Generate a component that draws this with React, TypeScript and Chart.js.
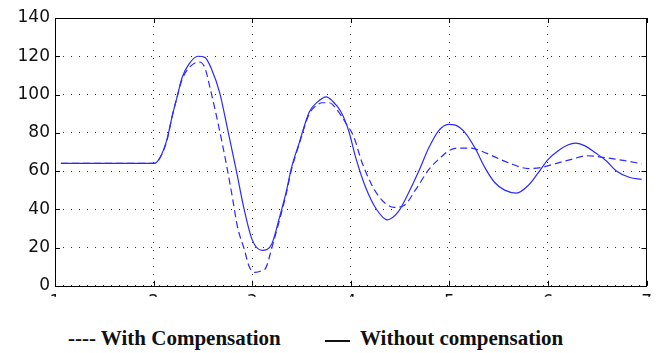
import React, { useEffect, useRef } from "react";
import { Chart, registerables } from "chart.js";

Chart.register(...registerables);

const withoutCompX = [1.06, 2.0, 2.03, 2.13, 2.19, 2.24, 2.29, 2.36, 2.45, 2.52, 2.59, 2.67, 2.75, 2.84, 2.92, 3.0, 3.1, 3.2, 3.27, 3.34, 3.4, 3.47, 3.58, 3.66, 3.75, 3.81, 3.9, 3.98, 4.05, 4.15, 4.26, 4.37, 4.48, 4.58, 4.69, 4.79, 4.89, 4.99, 5.06, 5.16, 5.26, 5.36, 5.46, 5.56, 5.68, 5.8, 5.9, 6.0, 6.1, 6.2, 6.28, 6.38, 6.48, 6.59, 6.69, 6.83, 6.95];
const withoutCompY = [64, 64, 64.5, 75.5, 89, 99, 109, 116, 120, 119.4, 113, 101, 82, 60, 39.6, 24, 18.5, 22, 34.5, 48, 62, 73.6, 91, 96, 98.8, 96.8, 91, 80.8, 67, 51.5, 40, 34.5, 38.6, 48, 60, 72, 81, 84.4, 84, 80, 72, 61.8, 54, 50, 48.5, 52.5, 59, 66, 70.5, 73.6, 74.6, 73, 69.5, 65.4, 60.2, 56.6, 55.6];

const withCompX = [1.06, 2.0, 2.03, 2.13, 2.19, 2.24, 2.29, 2.36, 2.46, 2.52, 2.57, 2.67, 2.74, 2.8, 2.85, 2.92, 2.97, 3.03, 3.1, 3.14, 3.2, 3.27, 3.34, 3.4, 3.47, 3.58, 3.66, 3.71, 3.78, 3.86, 3.95, 4.03, 4.11, 4.21, 4.28, 4.36, 4.44, 4.54, 4.66, 4.79, 4.91, 4.99, 5.09, 5.21, 5.32, 5.46, 5.6, 5.8, 5.93, 6.07, 6.23, 6.4, 6.58, 6.78, 6.95];
const withCompY = [64, 64, 64.5, 75, 89, 99, 108, 114, 117, 114, 104, 81, 63, 46, 31, 19, 10, 7, 8, 9.5, 20, 33, 47, 61, 73, 90, 94.5, 95.7, 95.7, 92, 85, 78, 65, 53, 47, 42.7, 41, 42, 50.4, 60.7, 67, 70.5, 72, 72, 70.5, 67.4, 64.3, 61.3, 61.8, 63.8, 66, 68, 67, 65.4, 63.8];

const xTicks = [1, 2, 3, 4, 5, 6, 7];
const yTicks = [0, 20, 40, 60, 80, 100, 120, 140];

const legendWithLabel = "---- With Compensation";
const legendWithoutLabel = "Without compensation";

const toPoints = (xs: number[], ys: number[]) => xs.map((x, i) => ({ x, y: ys[i] }));

const framePlugin = {
  id: "matlabFrame",
  afterDatasetsDraw(chart: any) {
    const { ctx, chartArea } = chart;
    const { left, right, top, bottom } = chartArea;
    const xs = chart.scales.x;
    const ys = chart.scales.y;
    ctx.save();
    ctx.setLineDash([]);
    ctx.strokeStyle = "#000";
    ctx.lineWidth = 1;
    ctx.strokeRect(Math.round(left) + 0.5, Math.round(top) + 0.5, Math.round(right - left) - 1, Math.round(bottom - top));
    ctx.beginPath();
    const len = 5;
    xTicks.forEach((v) => {
      const p = Math.round(xs.getPixelForValue(v)) + 0.5;
      ctx.moveTo(p, bottom);
      ctx.lineTo(p, bottom - len);
      ctx.moveTo(p, top);
      ctx.lineTo(p, top + len);
    });
    yTicks.forEach((v) => {
      const p = Math.round(ys.getPixelForValue(v)) + 0.5;
      ctx.moveTo(left, p);
      ctx.lineTo(left + len, p);
      ctx.moveTo(right, p);
      ctx.lineTo(right - len, p);
    });
    ctx.stroke();
    ctx.restore();
  },
};

export default function App() {
  const canvasRef = useRef<HTMLCanvasElement | null>(null);

  useEffect(() => {
    if (!canvasRef.current) return;
    const tickFont = { family: "'DejaVu Sans', sans-serif", size: 17 };
    const chart = new Chart(canvasRef.current, {
      type: "line",
      data: {
        datasets: [
          {
            label: "Without compensation",
            data: toPoints(withoutCompX, withoutCompY),
            borderColor: "#2a2aff",
            borderWidth: 1.2,
            pointRadius: 0,
            cubicInterpolationMode: "monotone",
            fill: false,
          },
          {
            label: "With Compensation",
            data: toPoints(withCompX, withCompY),
            borderColor: "#2a2aff",
            borderWidth: 1.2,
            borderDash: [7, 4],
            pointRadius: 0,
            cubicInterpolationMode: "monotone",
            fill: false,
          },
        ],
      },
      options: {
        animation: false,
        responsive: false,
        maintainAspectRatio: false,
        layout: { padding: { top: 18, right: 11, left: 0, bottom: 0 } },
        plugins: { legend: { display: false }, tooltip: { enabled: false } },
        scales: {
          x: {
            type: "linear",
            min: 1,
            max: 7,
            afterBuildTicks: (scale: any) => {
              scale.ticks = xTicks.map((v) => ({ value: v }));
            },
            afterFit: (scale: any) => {
              scale.height = 11;
            },
            ticks: { font: tickFont, color: "#111", padding: 7, maxRotation: 0, autoSkip: false },
            grid: { color: "#333", lineWidth: 1, drawTicks: false },
            border: { display: false, dash: [1, 7] },
          },
          y: {
            type: "linear",
            min: 0,
            max: 140,
            afterBuildTicks: (scale: any) => {
              scale.ticks = yTicks.map((v) => ({ value: v }));
            },
            afterFit: (scale: any) => {
              scale.width = 55;
            },
            ticks: { font: tickFont, color: "#111", padding: 5, autoSkip: false },
            grid: { color: "#333", lineWidth: 1, drawTicks: false },
            border: { display: false, dash: [1, 7] },
          },
        },
      },
      plugins: [framePlugin],
    } as any);
    return () => chart.destroy();
  }, []);

  const legendStyle: React.CSSProperties = {
    position: "absolute",
    top: 328,
    fontFamily: "'Liberation Serif', 'Times New Roman', serif",
    fontWeight: "bold",
    fontSize: 21,
    lineHeight: "21px",
    color: "#111",
    whiteSpace: "nowrap",
  };

  return (
    <div style={{ position: "fixed", left: 0, top: 0, width: 659, height: 353, background: "#fff", overflow: "hidden" }}>
      <canvas ref={canvasRef} width={659} height={301} style={{ position: "absolute", left: 0, top: 0, width: 659, height: 301 }} />
      <span style={{ ...legendStyle, left: 68 }}>{legendWithLabel}</span>
      <div style={{ position: "absolute", left: 325, top: 340, width: 25, height: 0, borderTop: "2px solid #111" }} />
      <span style={{ ...legendStyle, left: 360 }}>{legendWithoutLabel}</span>
    </div>
  );
}
